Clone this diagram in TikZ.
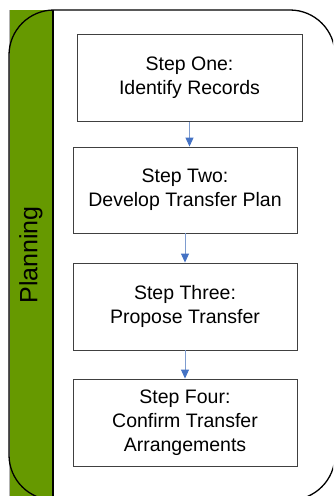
\documentclass[tikz,border=0pt]{standalone}
\usepackage{fontspec}
\setmainfont{Liberation Sans}
\usetikzlibrary{arrows.meta}

\definecolor{lanegreen}{HTML}{669900}
\definecolor{flowblue}{HTML}{4472C4}
\definecolor{flowline}{HTML}{7E9CCF}

\tikzset{
	stepbox/.style={draw=black!75, line width=0.9pt, fill=white, minimum width=224, minimum height=87,
		align=center, inner sep=0pt, font=\fontsize{19.5}{24}\selectfont},
	flow/.style={draw=flowline, line width=1pt, -{Triangle[width=8pt,length=9pt,color=flowblue]}},
}

\begin{document}
\begin{tikzpicture}[x=1pt, y=-1pt]
	\useasboundingbox (0, 0) rectangle (333, 496);
	\clip (0, 0) rectangle (333, 496);

	\fill[lanegreen] (9, 10) rectangle (53, 496);
	\draw[black!30, line width=0.6pt] (9, 10) -- (9, 496);
	\draw[line width=1.3pt, rounded corners=45] (9, 10) rectangle (335, 500);
	\draw[line width=1.3pt] (53, 10) -- (53, 496);

	\node[rotate=90, font=\fontsize{25}{30}\selectfont] (lane) at (31, 255) {Planning};

	\node[stepbox, minimum width=225] (one) at (189.5, 78) {Step One:\\Identify Records};
	\node[stepbox, minimum height=86] (two) at (185, 190) {Step Two:\\Develop Transfer Plan};
	\node[stepbox] (three) at (185, 306.5) {Step Three:\\Propose Transfer};
	\node[stepbox] (four) at (185, 422.5) {Step Four:\\Confirm Transfer\\Arrangements};

	\draw[flow] (one.south) -- (one.south |- two.north);
	\draw[flow] (two) -- (three);
	\draw[flow] (three) -- (four);

\end{tikzpicture}
\end{document}
